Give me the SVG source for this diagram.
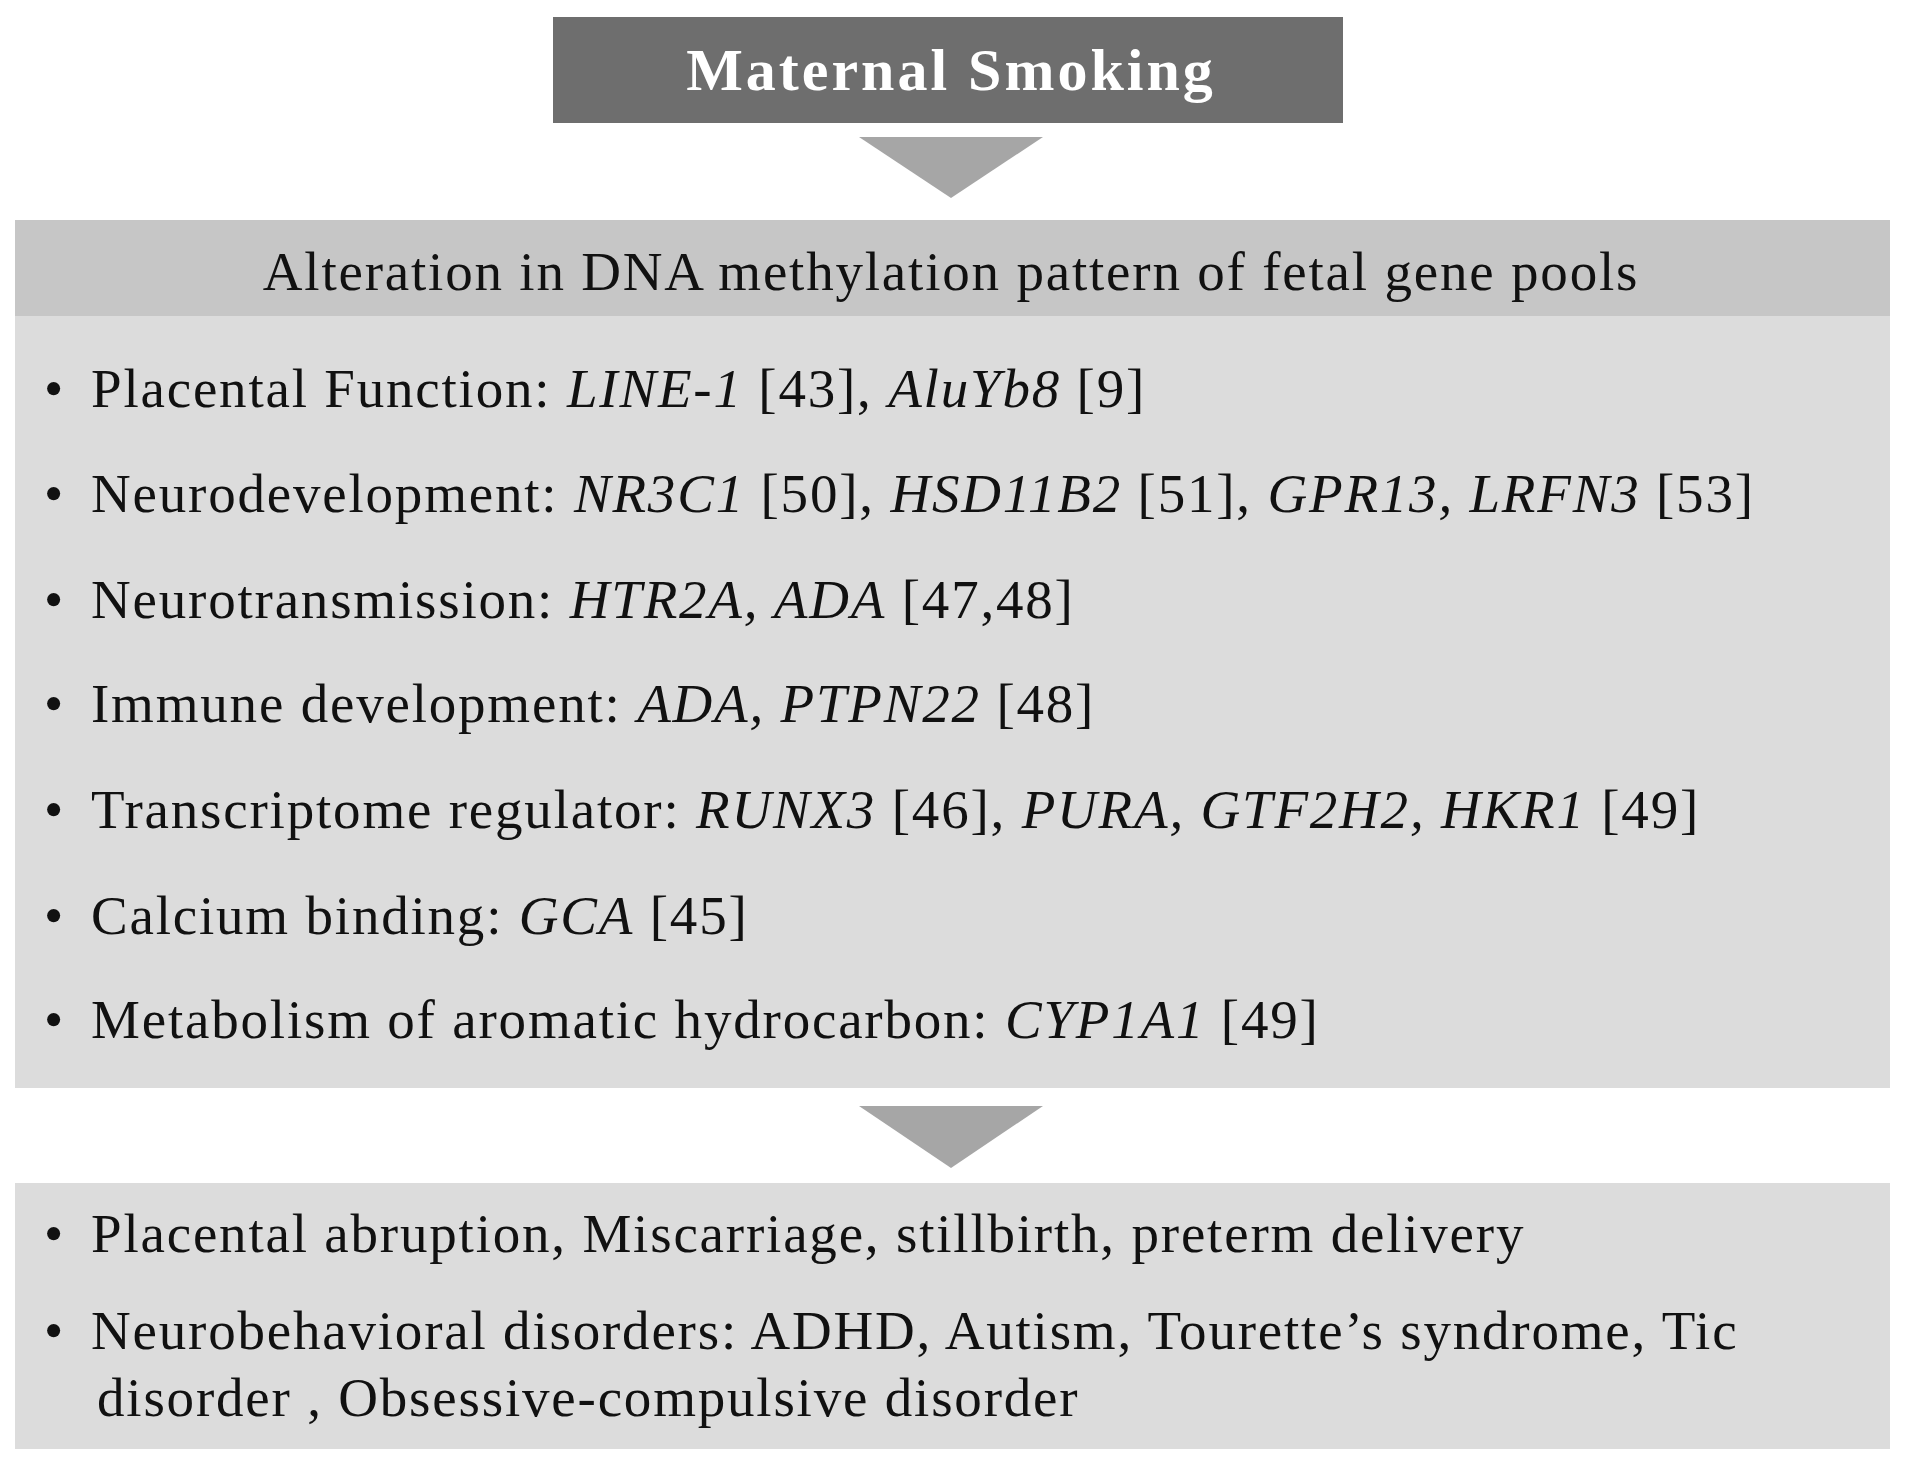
<svg xmlns="http://www.w3.org/2000/svg" width="1906" height="1470" viewBox="0 0 1906 1470">
<style>
.t{font-family:"Liberation Serif",serif;font-size:55px;letter-spacing:1.8px;fill:#111}
.i{font-style:italic}
.arr{fill:#a6a6a6}
</style>
<rect width="1906" height="1470" fill="#fff"/>
<g id="title"><rect x="553" y="17" width="790" height="106" fill="#6e6e6e"/>
<text x="951" y="90" text-anchor="middle" style="font-family:'Liberation Serif',serif;font-size:60px;letter-spacing:3px;font-weight:bold;fill:#fff">Maternal  Smoking</text></g>
<g id="connectors">
<polygon class="arr" points="859,137 1043,137 951,198"/>
<polygon class="arr" points="859,1106 1043,1106 951,1168"/>
</g>
<g id="genes">
<rect x="15" y="220" width="1875" height="868" fill="#dcdcdc"/>
<rect x="15" y="220" width="1875" height="96" fill="#c6c6c6"/>
<text class="t" x="951" y="290" text-anchor="middle">Alteration in DNA methylation pattern of fetal gene pools</text>
<text class="t" x="44" y="407">•</text><text class="t" x="91" y="407">Placental Function: <tspan class="i">LINE-1</tspan> [43], <tspan class="i">AluYb8</tspan> [9]</text>
<text class="t" x="44" y="512">•</text><text class="t" x="91" y="512">Neurodevelopment: <tspan class="i">NR3C1</tspan> [50], <tspan class="i">HSD11B2</tspan> [51], <tspan class="i">GPR13, LRFN3</tspan> [53]</text>
<text class="t" x="44" y="618">•</text><text class="t" x="91" y="618">Neurotransmission: <tspan class="i">HTR2A, ADA</tspan> [47,48]</text>
<text class="t" x="44" y="722">•</text><text class="t" x="91" y="722">Immune development: <tspan class="i">ADA, PTPN22</tspan> [48]</text>
<text class="t" x="44" y="828">•</text><text class="t" x="91" y="828">Transcriptome regulator: <tspan class="i">RUNX3</tspan> [46], <tspan class="i">PURA, GTF2H2, HKR1</tspan> [49]</text>
<text class="t" x="44" y="934">•</text><text class="t" x="91" y="934">Calcium binding: <tspan class="i">GCA</tspan> [45]</text>
<text class="t" x="44" y="1038">•</text><text class="t" x="91" y="1038">Metabolism of aromatic hydrocarbon: <tspan class="i">CYP1A1</tspan> [49]</text>
</g>
<g id="outcomes">
<rect x="15" y="1183" width="1875" height="266" fill="#dcdcdc"/>
<text class="t" x="44" y="1252">•</text><text class="t" x="91" y="1252">Placental abruption, Miscarriage,  stillbirth, preterm delivery</text>
<text class="t" x="44" y="1349">•</text><text class="t" x="91" y="1349">Neurobehavioral disorders: ADHD, Autism, Tourette’s syndrome, Tic</text>
<text class="t" x="97" y="1416">disorder , Obsessive-compulsive  disorder</text>
</g>
</svg>
